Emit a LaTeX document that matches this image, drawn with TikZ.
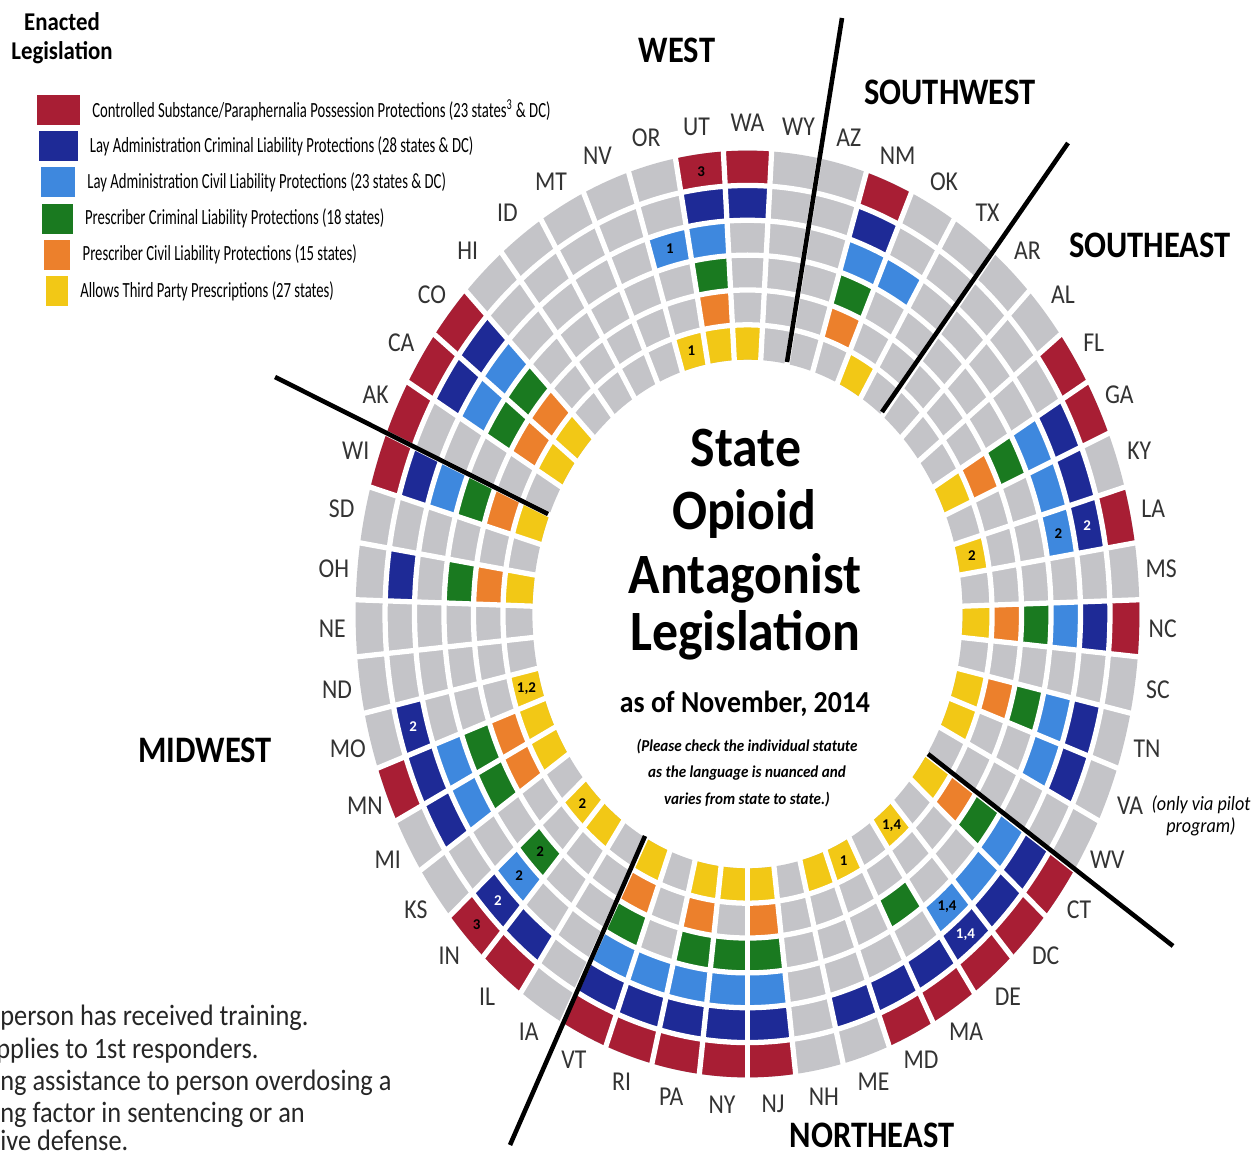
\documentclass[tikz,border=0pt]{standalone}
\usepackage{fontspec}
\setmainfont{Carlito}

\definecolor{possred}{RGB}{168,30,52}
\definecolor{laycrim}{RGB}{30,42,150}
\definecolor{laycivil}{RGB}{62,136,222}
\definecolor{prescrim}{RGB}{26,122,32}
\definecolor{prescivil}{RGB}{236,128,44}
\definecolor{thirdparty}{RGB}{242,200,22}
\definecolor{nolaw}{RGB}{196,196,200}

% one cell of the ring: wedge number, ring number (1 = outer), colour
\newcommand{\ringcell}[3]{%
  \fill[#3] ({90-(#1+0.5)*7.0588}:{1-#2*0.0752})
    -- ({90-(#1+0.5)*7.0588}:{1.0752-#2*0.0752})
    arc[start angle={90-(#1+0.5)*7.0588}, delta angle=7.0588, radius={1.0752-#2*0.0752}]
    -- ({90-(#1-0.5)*7.0588}:{1-#2*0.0752})
    arc[start angle={90-(#1-0.5)*7.0588}, delta angle=-7.0588, radius={1-#2*0.0752}]
    -- cycle;}

\tikzset{
  statelbl/.style={font=\fontsize{13.5}{14}\selectfont, text=black!80, yscale=1.15, inner sep=1pt},
  region/.style={font=\bfseries\fontsize{18.5}{20}\selectfont, yscale=1.15},
  cellnum/.style={font=\bfseries\fontsize{8.5}{9}\selectfont, inner sep=0pt},
  gap/.style={white, line width=3pt},
  divider/.style={black, line width=2.6pt},
  legtext/.style={anchor=west, font=\fontsize{11}{12}\selectfont, xscale=0.76, yscale=1.12, inner sep=0pt},
  title/.style={anchor=base, font=\bfseries\fontsize{29.5}{30}\selectfont, yscale=1.1},
  footnote/.style={anchor=base west, font=\fontsize{15}{15}\selectfont, yscale=1.12, inner sep=0pt, text=black!85}
}

\begin{document}
\begin{tikzpicture}[x=0.02cm, y=-0.02cm]
\useasboundingbox (0,0) rectangle (1258,1156);

% legend
\node[font=\bfseries\fontsize{13}{14.5}\selectfont, align=center, yscale=1.12] (enacted) at (62,38) {Enacted\\Legislation};
\foreach \c/\t [count=\j from 0] in {
  possred/{Controlled Substance/Paraphernalia Possession Protections (23 states\textsuperscript{3} \& DC)},
  laycrim/{Lay Administration Criminal Liability Protections (28 states \& DC)},
  laycivil/{Lay Administration Civil Liability Protections (23 states \& DC)},
  prescrim/{Prescriber Criminal Liability Protections (18 states)},
  prescivil/{Prescriber Civil Liability Protections (15 states)},
  thirdparty/{Allows Third Party Prescriptions (27 states)}}{
  \fill[\c] ({37+1.8*\j},{95+36.2*\j}) rectangle ({80-2.4*\j},{125+36.2*\j});
  \node[legtext] (leg\j) at ({92-2.4*\j},{110+36.2*\j}) {\t};
}

% the ring of states
\begin{scope}[shift={(747.5,614)}, x=7.84cm, y=9.27cm]
  \fill[nolaw, even odd rule] (0,0) circle[radius=1] (0,0) circle[radius=0.5488];
  \foreach \k/\c/\lst in {
    1/possred/{0,3,8,9,11,13,18,19,20,21,22,25,26,27,28,29,31,32,35,41,42,43,44,50},
    2/laycrim/{0,3,9,10,11,13,15,16,18,19,20,21,22,23,25,26,27,28,29,31,32,34,35,36,39,41,43,44,50},
    3/laycivil/{3,4,9,10,11,13,15,16,18,19,20,25,26,27,28,29,32,34,35,41,43,44,49,50},
    4/prescrim/{3,9,13,15,18,21,25,26,27,29,32,34,35,39,41,43,44,50},
    5/prescivil/{3,9,13,15,18,25,27,29,34,35,39,41,43,44,50},
    6/thirdparty/{0,4,9,11,13,15,16,18,20,22,23,25,26,27,29,31,32,34,35,36,39,41,43,44,49,50}}{
    \foreach \i in \lst {\ringcell{\i}{\k}{\c}}
  }
  % white gaps
  \foreach \i in {0,...,50}
    \draw[gap] ({90-(\i+0.5)*7.0588}:0.54) -- ({90-(\i+0.5)*7.0588}:1.01);
  \foreach \k in {1,...,5}
    \draw[gap] (0,0) circle[radius={1-\k*0.0752}];

  % footnote marks in cells
  \foreach \w/\k/\txt/\tc in {50/1/3/black, 49/3/1/black, 49/6/1/black,
      11/2/2/white, 11/3/2/black, 11/6/2/black,
      20/2/{1,4}/white, 20/3/{1,4}/black, 20/6/{1,4}/black, 22/6/1/black,
      32/1/3/black, 32/2/2/white, 32/3/2/black, 32/4/2/black, 32/6/2/black,
      36/2/2/white, 36/6/{1,2}/black}
    \node[cellnum, text=\tc] (mark-\w-\k) at ({90-\w*7.0588}:{1.0376-\k*0.0752}) {\txt};

  % state names
  \foreach \st [count=\n from 0] in {WA,WY,AZ,NM,OK,TX,AR,AL,FL,GA,KY,LA,MS,NC,SC,TN,VA,WV,
      CT,DC,DE,MA,MD,ME,NH,NJ,NY,PA,RI,VT,IA,IL,IN,KS,MI,MN,MO,ND,NE,OH,SD,WI,AK,CA,CO,HI,ID,MT,NV,OR,UT}
    \node[statelbl] (\st) at ({90-\n*7.0588}:1.06) {\st};
\end{scope}
\node[font=\itshape\fontsize{10.3}{11.5}\selectfont, align=center, yscale=1.12] (vanote) at (1201,816) {(only via pilot\\program)};

% region dividers
\draw[divider] (842,18) -- (787,362);
\draw[divider] (1068,143) -- (882,412);
\draw[divider] (928,754) -- (1173,946);
\draw[divider] (645,836) -- (510,1145);
\draw[divider] (275,377) -- (548,514);

% region names
\node[region] (west) at (677,50) {WEST};
\node[region] (southwest) at (950,92) {SOUTHWEST};
\node[region] (southeast) at (1150,245) {SOUTHEAST};
\node[region] (midwest) at (205,750) {MIDWEST};
\node[region] (northeast) at (872,1135) {NORTHEAST};

% title
\node[title] (state) at (746,466) {State};
\node[title] (opioid) at (744,529) {Opioid};
\node[title] (antagonist) at (745,593) {Antagonist};
\node[title] (legislation) at (745,650) {Legislation};
\node[anchor=base, font=\bfseries\fontsize{15.8}{17}\selectfont, yscale=1.1] (asof) at (745,712) {as of November, 2014};
\node[font=\bfseries\itshape\fontsize{8.6}{13.6}\selectfont, align=center, yscale=1.1] (caveat) at (747,773)
  {(Please check the individual statute\\as the language is nuanced and\\varies from state to state.)};

% footnotes
\node[footnote] (fn1) at (0,1025) {person has received training.};
\node[footnote] (fn2) at (-4,1058) {pplies to 1st responders.};
\node[footnote] (fn3) at (0,1090) {ng assistance to person overdosing a};
\node[footnote] (fn4) at (0,1122) {ng factor in sentencing or an};
\node[footnote] (fn5) at (0,1150) {ive defense.};
\end{tikzpicture}
\end{document}
